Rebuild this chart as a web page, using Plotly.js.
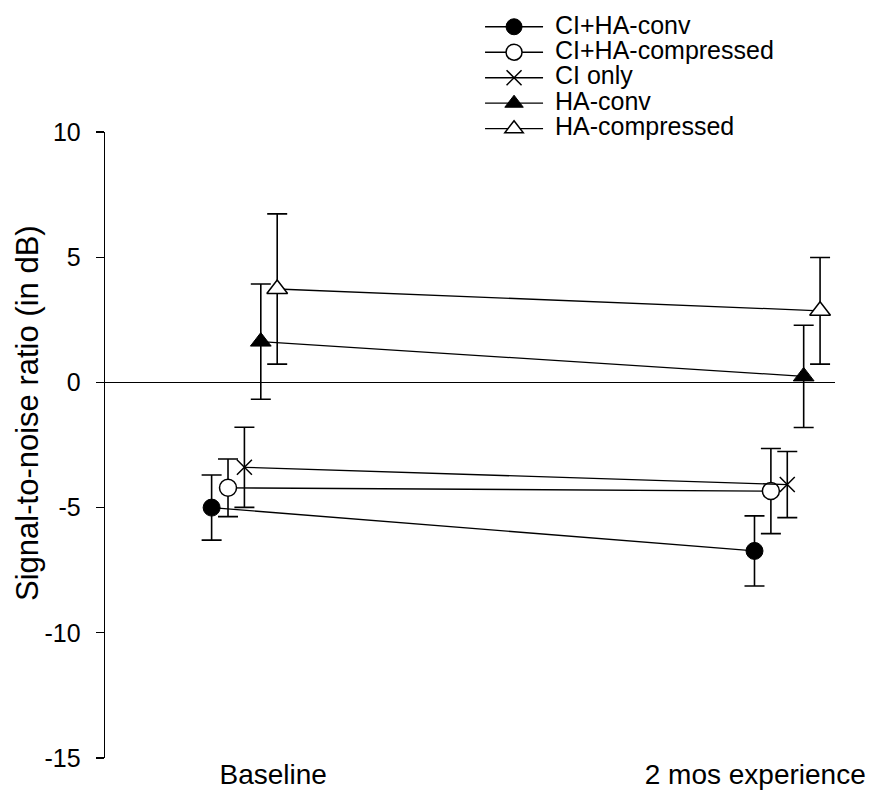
<!DOCTYPE html>
<html><head><meta charset="utf-8">
<script src="https://cdn.plot.ly/plotly-3.0.1.min.js"></script>
<style>html,body{margin:0;padding:0;background:#fff}</style>
</head><body>
<div id="chart" style="width:876px;height:790px"></div>
<script>
// ---- data ----
const sessions = ["Baseline", "2 mos experience"];
const seriesNames = ["CI+HA-conv", "CI+HA-compressed", "CI only", "HA-conv", "HA-compressed"];
const ciHaConv = [-5.0, -6.73];
const ciHaConvErr = [1.3, 1.4];
const ciHaCompressed = [-4.21, -4.34];
const ciHaCompressedErr = [1.15, 1.7];
const ciOnly = [-3.39, -4.08];
const ciOnlyErr = [1.6, 1.32];
const haConv = [1.63, 0.24];
const haConvErr = [2.3, 2.04];
const haCompressed = [3.73, 2.86];
const haCompressedErr = [3.0, 2.13];
const yTicks = [-15, -10, -5, 0, 5, 10];
const yTickLabels = ["-15", "-10", "-5", "0", "5", "10"];
const yTitle = "Signal-to-noise ratio (in dB)";

// ---- layout helpers ----
const sessionPos = [0, 1];
const dodge = 0.0302;
const labelPos = [0.053, 0.941];
const FONT = "Liberation Sans, Arial, sans-serif";
const NB = "\u00a0";

const values = [ciHaConv, ciHaCompressed, ciOnly, haConv, haCompressed];
const errors = [ciHaConvErr, ciHaCompressedErr, ciOnlyErr, haConvErr, haCompressedErr];
const markers = [
  {symbol: "circle", size: 17, color: "black", line: {color: "black", width: 1}},
  {symbol: "circle", size: 17, color: "white", line: {color: "black", width: 1.5}},
  {symbol: "x-thin-open", size: 15, color: "black", line: {color: "black", width: 1.5}},
  {symbol: "triangle-up", size: 18, color: "black", line: {color: "black", width: 1}},
  {symbol: "triangle-up", size: 18, color: "white", line: {color: "black", width: 1.5}}
];

const traces = seriesNames.map((name, i) => ({
  type: "scatter",
  mode: "lines+markers",
  name: '<span style="font-size:25px">' + NB + name + '</span>',
  x: sessionPos.map(p => p + (i - 2) * dodge),
  y: values[i],
  line: {color: "black", width: 1.3},
  marker: markers[i],
  error_y: {type: "data", array: errors[i], visible: true, color: "black", thickness: 1.6, width: 10}
}));

const layout = {
  width: 876, height: 790,
  margin: {l: 105, r: 41, t: 132, b: 32, autoexpand: false},
  paper_bgcolor: "white", plot_bgcolor: "white",
  font: {family: FONT, color: "black"},
  showlegend: true,
  legend: {
    xref: "container", yref: "container",
    x: 0.548, y: 0.9886, xanchor: "left", yanchor: "top",
    font: {family: FONT, size: 17.3, color: "black"},
    itemwidth: 58, bgcolor: "rgba(0,0,0,0)", tracegroupgap: 0
  },
  xaxis: {
    range: [-0.2568, 1.0879],
    tickmode: "array", tickvals: labelPos, ticktext: sessions,
    showline: false, showgrid: false, zeroline: false, ticks: "",
    tickfont: {family: FONT, size: 28, color: "black"},
    ticklabelstandoff: -3
  },
  yaxis: {
    range: [-15, 10],
    tickmode: "array", tickvals: yTicks, ticktext: yTickLabels,
    showline: true, linecolor: "black", linewidth: 1.3,
    ticks: "outside", ticklen: 8, tickwidth: 1.3, tickcolor: "black",
    showgrid: false,
    zeroline: true, zerolinecolor: "black", zerolinewidth: 1.3,
    tickfont: {family: FONT, size: 25, color: "black"},
    ticklabelstandoff: 10
  },
  annotations: [{
    text: yTitle, xref: "paper", yref: "paper",
    x: -0.107, y: 0.551, xanchor: "center", yanchor: "middle",
    textangle: -90, showarrow: false,
    font: {family: FONT, size: 31, color: "black"}
  }]
};

Plotly.newPlot("chart", traces, layout, {displayModeBar: false, staticPlot: true});
</script>
</body></html>
